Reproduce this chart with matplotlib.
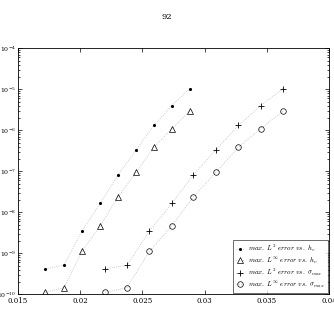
import matplotlib
matplotlib.use("Agg")
import matplotlib.pyplot as plt
from matplotlib.ticker import LogLocator, NullFormatter

plt.rcParams['font.family'] = 'DejaVu Serif'
plt.rcParams['mathtext.fontset'] = 'cm'

# mesh size h_v and sigma_max for each refinement level
h = [0.01723, 0.01872, 0.02015, 0.02162, 0.02304, 0.02449, 0.02593, 0.02736, 0.02880]
sigma = [0.02202, 0.02377, 0.02557, 0.02736, 0.02908, 0.03089, 0.03270, 0.03448, 0.03629]

# max errors
err_l2 = [4.2e-10, 5.1e-10, 3.5e-9, 1.64e-8, 8.1e-8, 3.3e-7, 1.31e-6, 4.0e-6, 1.03e-5]
err_linf = [1.12e-10, 1.45e-10, 1.12e-9, 4.7e-9, 2.35e-8, 9.35e-8, 3.85e-7, 1.09e-6, 2.92e-6]

labels = [r'$\mathit{max.\ L^2\ error\ vs.\ h_v}$',
          r'$\mathit{max.\ L^\infty\ error\ vs.\ h_v}$',
          r'$\mathit{max.\ L^2\ error\ vs.\ \sigma_{max}}$',
          r'$\mathit{max.\ L^\infty\ error\ vs.\ \sigma_{max}}$']

fig = plt.figure(figsize=(3.34, 3.11), dpi=100)
ax = fig.add_axes([0.053, 0.0537, 0.933, 0.791])

line_kw = dict(color='#bbbbbb', linestyle=':', linewidth=0.6)
ax.plot(h, err_l2, marker='.', markersize=2.5, markeredgecolor='black',
        markerfacecolor='black', label=labels[0], **line_kw)
ax.plot(h, err_linf, marker='^', markersize=4, markerfacecolor='none',
        markeredgecolor='black', markeredgewidth=0.5, label=labels[1], **line_kw)
ax.plot(sigma, err_l2, marker='+', markersize=5, markeredgewidth=0.6,
        markeredgecolor='black', label=labels[2], **line_kw)
ax.plot(sigma, err_linf, marker='o', markersize=4, markerfacecolor='none',
        markeredgecolor='black', markeredgewidth=0.5, label=labels[3], **line_kw)

ax.set_yscale('log')
ax.set_xlim(0.015, 0.04)
ax.set_ylim(1e-10, 1e-4)
ax.set_xticks([0.015, 0.02, 0.025, 0.03, 0.035, 0.04])
ax.set_xticklabels(['0.015', '0.02', '0.025', '0.03', '0.035', '0.04'])
ax.yaxis.set_major_locator(LogLocator(base=10, numticks=10))
ax.yaxis.set_minor_locator(LogLocator(base=10, subs=range(2, 10), numticks=10))
ax.yaxis.set_minor_formatter(NullFormatter())
ax.tick_params(which='both', direction='in', top=True, right=True,
               labelsize=5, width=0.5, pad=2)
ax.tick_params(axis='y', labelsize=4.5, pad=1)
ax.tick_params(which='major', length=3)
ax.tick_params(which='minor', length=1.5)
for sp in ax.spines.values():
    sp.set_linewidth(0.6)

leg = ax.legend(loc='lower right', fontsize=5, frameon=True, fancybox=False,
                edgecolor='black', borderaxespad=0.2, handlelength=1.2,
                handletextpad=0.6, labelspacing=0.15, borderpad=0.4)
leg.get_frame().set_linewidth(0.5)

fig.text(0.5, 0.945, '92', ha='center', va='center', fontsize=6)

fig.savefig('out.png', dpi=100)
